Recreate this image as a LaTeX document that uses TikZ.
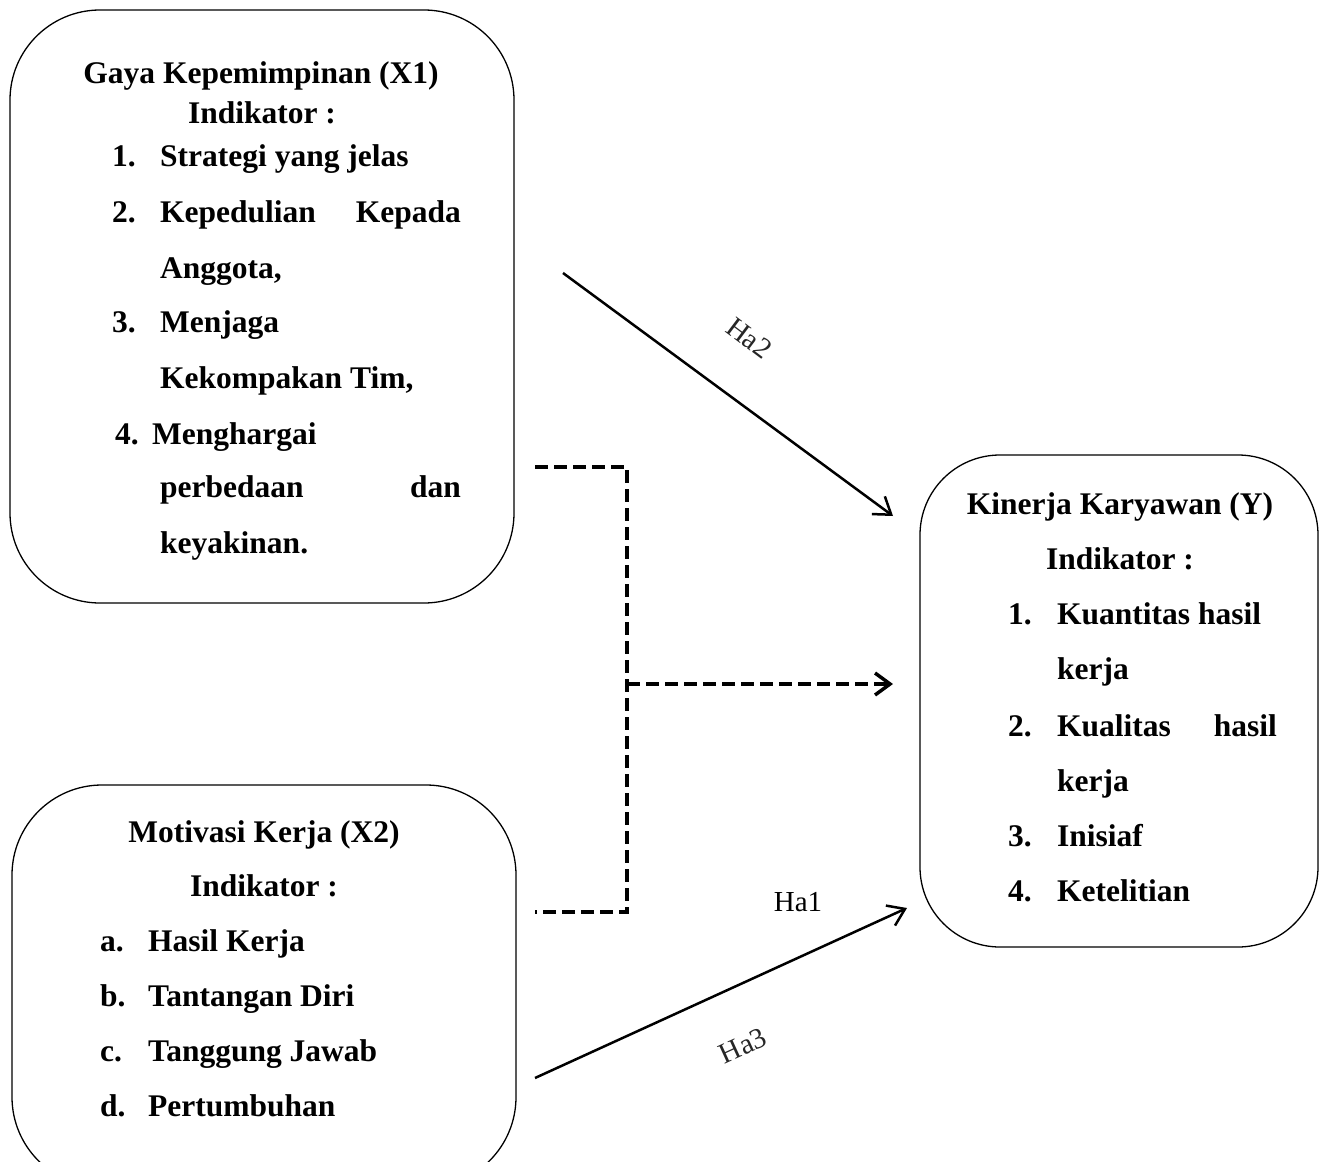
\documentclass[tikz,border=0pt]{standalone}
\usepackage{fontspec}
\setmainfont{Liberation Serif}
\usetikzlibrary{arrows.meta}
\tikzset{
  box/.style={draw, rounded corners=90pt, line width=1.3pt, inner sep=0pt},
  txt/.style={font=\fontsize{31.5}{38}\selectfont\bfseries, anchor=base west, inner sep=0pt},
  ctxt/.style={txt, anchor=base},
  rtxt/.style={txt, anchor=base east},
  tip/.style={-{Straight Barb[length=16pt,width=22pt,line width=2.5pt]}},
  dtip/.style={-{Straight Barb[length=15pt,width=22pt,line width=3.5pt]}},
  link/.style={line width=2.5pt, tip},
  dlink/.style={line width=4pt, dash pattern=on 13pt off 6pt},
  hyp/.style={font=\fontsize{29}{34}\selectfont, text=black!85, inner sep=0pt},
  hypa/.style={font=\fontsize{29}{34}\selectfont, inner sep=0pt},
}
\begin{document}
\begin{tikzpicture}[x=1pt,y=-1pt]
\useasboundingbox (0,0) rectangle (1323,1162);
\fill[white] (0,0) rectangle (1323,1162);
\clip (0,0) rectangle (1323,1162);

% boxes
\node[box, minimum width=504pt, minimum height=593pt] (bx1) at (262,306.5) {};
\node[box, minimum width=504pt, minimum height=402pt] (bx2) at (264,986) {};
\node[box, rounded corners=80pt, minimum width=398pt, minimum height=492pt] (bx3) at (1119,701) {};

% box 1 text
\node[ctxt] (t1) at (261,83) {Gaya Kepemimpinan (X1)};
\node[ctxt] (t2) at (262,123) {Indikator :};
\node[txt] (n1) at (112,166) {1.};
\node[txt] (i1) at (160,166) {Strategi yang jelas};
\node[txt] (n2) at (112,222) {2.};
\node[txt] (i2a) at (160,222) {Kepedulian};
\node[rtxt] (i2b) at (461,222) {Kepada};
\node[txt] (i2c) at (160,278) {Anggota,};
\node[txt] (n3) at (112,332) {3.};
\node[txt] (i3a) at (160,332) {Menjaga};
\node[txt] (i3b) at (160,388) {Kekompakan Tim,};
\node[txt] (n4) at (115,444) {4.};
\node[txt] (i4a) at (152,444) {Menghargai};
\node[txt] (i4b) at (160,497) {perbedaan};
\node[rtxt] (i4c) at (461,497) {dan};
\node[txt] (i4d) at (160,553) {keyakinan.};

% box 2 text
\node[ctxt] (m1) at (264,842) {Motivasi Kerja (X2)};
\node[ctxt] (m2) at (264,896) {Indikator :};
\node[txt] (ma) at (100,951) {a.};
\node[txt] (mai) at (148,951) {Hasil Kerja};
\node[txt] (mb) at (100,1006) {b.};
\node[txt] (mbi) at (148,1006) {Tantangan Diri};
\node[txt] (mc) at (100,1061) {c.};
\node[txt] (mci) at (148,1061) {Tanggung Jawab};
\node[txt] (md) at (100,1116) {d.};
\node[txt] (mdi) at (148,1116) {Pertumbuhan};

% box 3 text
\node[ctxt] (k1) at (1120,514) {Kinerja Karyawan (Y)};
\node[ctxt] (k2) at (1120,569) {Indikator :};
\node[txt] (kn1) at (1008,624) {1.};
\node[txt] (ki1) at (1057,624) {Kuantitas hasil};
\node[txt] (ki1b) at (1057,679) {kerja};
\node[txt] (kn2) at (1008,736) {2.};
\node[txt] (ki2) at (1057,736) {Kualitas};
\node[rtxt] (ki2r) at (1277,736) {hasil};
\node[txt] (ki2b) at (1057,791) {kerja};
\node[txt] (kn3) at (1008,846) {3.};
\node[txt] (ki3) at (1057,846) {Inisiaf};
\node[txt] (kn4) at (1008,901) {4.};
\node[txt] (ki4) at (1057,901) {Ketelitian};

% connectors
\coordinate (a2s) at (563,273);
\coordinate (a2e) at (893,516);
\draw[link] (a2s) -- (a2e);
\node[hyp, rotate=-37] (ha2) at (749,338) {Ha2};

\coordinate (d1) at (535,467);
\coordinate (d2) at (627,467);
\coordinate (d3) at (627,912);
\coordinate (d4) at (535,912);
\coordinate (dm) at (627,684);
\coordinate (de) at (893,684);
\draw[dlink] (d1) -- (d2) -- (d3) -- (d4);
\draw[dlink, dtip] (dm) -- (de);

\coordinate (a3s) at (535,1078);
\coordinate (a3e) at (907,908);
\draw[link] (a3s) -- (a3e);
\node[hypa] (ha1) at (798,902) {Ha1};
\node[hyp, rotate=24.6] (ha3) at (743,1046) {Ha3};
\end{tikzpicture}
\end{document}
